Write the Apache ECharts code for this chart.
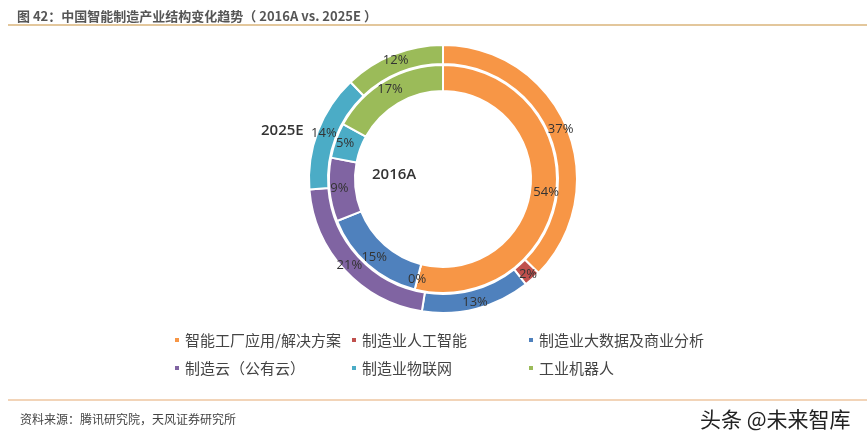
<!DOCTYPE html>
<html>
<head>
<meta charset="utf-8">
<script src="https://cdn.jsdelivr.net/npm/echarts@6/dist/echarts.min.js"></script>
<style>
html,body{margin:0;padding:0;background:#fff;}
#main{width:867px;height:442px;}
</style>
</head>
<body>
<div id="main"></div>
<script>
const categories = ['智能工厂应用/解决方案', '制造业人工智能', '制造业大数据及商业分析', '制造云（公有云）', '制造业物联网', '工业机器人'];
const values2025E = [37, 2, 13, 21, 14, 12];
const values2016A = [54, 0, 15, 9, 5, 17];
const colors = ['#F79646', '#C0504D', '#4F81BD', '#8064A2', '#4BACC6', '#9BBB59'];
const ringNames = ['2025E', '2016A'];

const FONT = '"Noto Sans CJK SC", "Noto Sans", sans-serif';
const chart = echarts.init(document.getElementById('main'));

const legendCols = [173, 350, 527];
const legendRows = [330, 358];
const legends = categories.map((name, i) => ({
  data: [name],
  left: legendCols[i % 3],
  top: legendRows[Math.floor(i / 3)],
  orient: 'horizontal',
  icon: 'rect',
  itemWidth: 6,
  itemHeight: 6,
  padding: 0,
  selectedMode: false,
  textStyle: { fontFamily: FONT, fontSize: 15, color: '#444', lineHeight: 20 }
}));

const pieLabel = {
  show: true,
  position: 'inside',
  formatter: '{c}%',
  fontFamily: '"Open Sans", "Liberation Sans", sans-serif',
  fontSize: 13,
  color: '#333'
};

const option = {
  color: colors,
  animation: false,
  title: [
    { text: '图 42：中国智能制造产业结构变化趋势（ 2016A vs. 2025E ）', left: 12, top: 5,
      textStyle: { fontFamily: FONT, fontSize: 13, fontWeight: 'bold', color: '#555' } },
    { text: '资料来源：腾讯研究院，天风证券研究所', left: 15, top: 408,
      textStyle: { fontFamily: FONT, fontSize: 12, fontWeight: 'normal', color: '#444' } },
    { text: '头条 @未来智库', left: 695, top: 404,
      textStyle: { fontFamily: FONT, fontSize: 21, fontWeight: 'normal', color: '#222' } },
    { text: ringNames[0], left: 256, top: 118,
      textStyle: { fontFamily: '"Open Sans", sans-serif', fontSize: 15, fontWeight: 600, color: '#333' } },
    { text: ringNames[1], left: 367, top: 162,
      textStyle: { fontFamily: '"Open Sans", sans-serif', fontSize: 15, fontWeight: 600, color: '#333' } }
  ],
  graphic: [
    { type: 'line', shape: { x1: 8, y1: 25, x2: 867, y2: 25 }, style: { stroke: '#E3C79C', lineWidth: 2 } },
    { type: 'line', shape: { x1: 8, y1: 400, x2: 867, y2: 400 }, style: { stroke: '#F2D4B8', lineWidth: 2 } }
  ],
  legend: legends,
  series: [
    {
      name: ringNames[0],
      type: 'pie',
      center: [443, 179],
      radius: [115, 134],
      startAngle: 90,
      clockwise: true,
      avoidLabelOverlap: false,
      itemStyle: { borderColor: '#fff', borderWidth: 2 },
      label: pieLabel,
      labelLine: { show: false },
      labelLayout: { hideOverlap: false },
      emphasis: { disabled: true },
      data: categories.map((n, i) => ({ name: n, value: values2025E[i] }))
    },
    {
      name: ringNames[1],
      type: 'pie',
      center: [443, 179],
      radius: [88, 114],
      startAngle: 90,
      clockwise: true,
      avoidLabelOverlap: false,
      itemStyle: { borderColor: '#fff', borderWidth: 2 },
      label: pieLabel,
      labelLine: { show: false },
      labelLayout: { hideOverlap: false },
      emphasis: { disabled: true },
      data: categories.map((n, i) => ({ name: n, value: values2016A[i] }))
    }
  ]
};
chart.setOption(option);
</script>
</body>
</html>
